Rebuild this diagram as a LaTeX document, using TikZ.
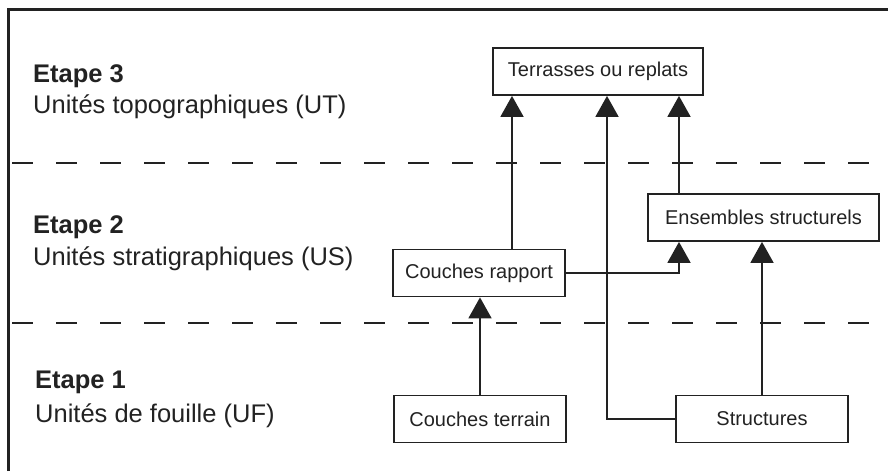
\documentclass[tikz,border=0pt]{standalone}
\usepackage{fontspec}
\setmainfont{Liberation Sans}
\usepackage{xcolor}
\usetikzlibrary{arrows.meta,positioning}

\definecolor{ink}{HTML}{222222}

\begin{document}
\begin{tikzpicture}[
    x=1pt, y=-1pt,
    unitbox/.style={draw=ink, line width=1.8pt, minimum height=47pt, inner sep=0pt, text=ink, font=\fontsize{20}{24}\selectfont},
    etape/.style={anchor=base west, inner sep=0pt, text=ink, font=\fontsize{25.5}{30}\selectfont\bfseries},
    unite/.style={anchor=base west, inner sep=0pt, text=ink, font=\fontsize{25.5}{30}\selectfont},
    separator/.style={draw=ink, line width=1.8pt, dash pattern=on 21pt off 23pt},
    arrow/.style={draw=ink, line width=1.8pt, -{Triangle[width=23pt,length=21pt]}}
]
    \useasboundingbox (0,0) rectangle (888,471);

    % Frame
    \draw[ink, line width=3pt] (8,471) -- (8,9) -- (888,9);

    % Separators
    \draw[separator] (12,163) -- (888,163);
    \draw[separator] (12,323) -- (888,323);

    % Stages
    \node[etape] (e3) at (33,82) {Etape 3};
    \node[unite] (u3) at (33,113) {Unités topographiques (UT)};
    \node[etape] (e2) at (33,233) {Etape 2};
    \node[unite] (u2) at (33,265) {Unités stratigraphiques (US)};
    \node[etape] (e1) at (35,388) {Etape 1};
    \node[unite] (u1) at (35,422) {Unités de fouille (UF)};

    % Boxes
    \node[unitbox, minimum width=210pt] (terr) at (598,71.5) {Terrasses ou replats};
    \node[unitbox, minimum width=231pt] (ens) at (763.5,217.5) {Ensembles structurels};
    \node[unitbox, minimum width=172pt] (crap) at (479,273) {Couches rapport};
    \node[unitbox, minimum width=172pt] (cterr) at (480,419) {Couches terrain};
    \node[unitbox, minimum width=172pt] (struct) at (762,419) {Structures};

    % Arrows
    \draw[arrow] (cterr.north) -- (cterr.north |- crap.south);
    \draw[arrow] (struct.north) -- (struct.north |- ens.south);
    \draw[arrow] ([xshift=33pt]crap.north) -- ([xshift=-86pt]terr.south);
    \draw[arrow] (crap.east) -| ([xshift=-84.5pt]ens.south);
    \draw[arrow] ([xshift=-84.5pt]ens.north) -- ([xshift=81pt]terr.south);
    \draw[arrow] (struct.west) -| ([xshift=9pt]terr.south);
\end{tikzpicture}
\end{document}
